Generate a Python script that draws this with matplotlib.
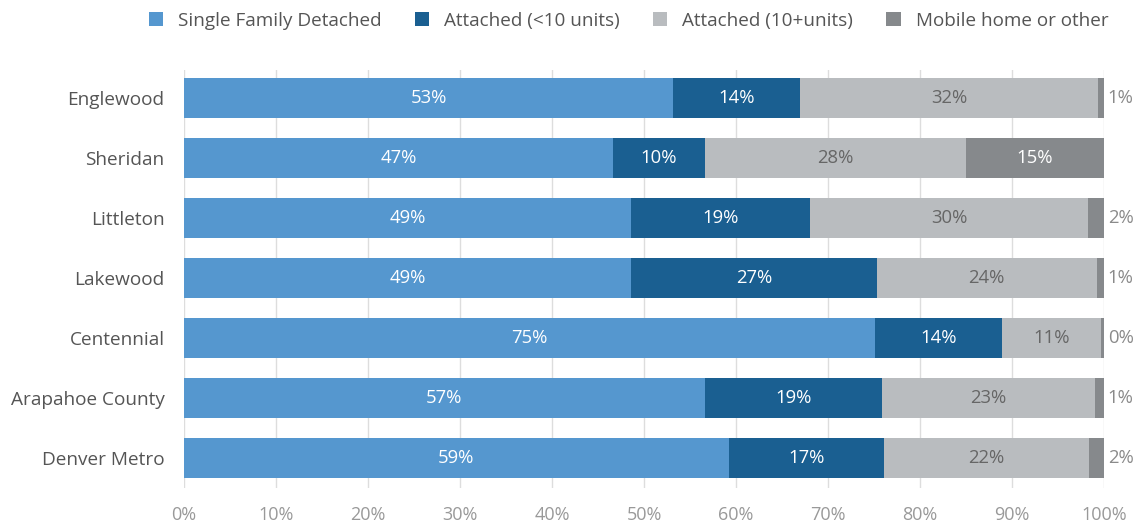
import matplotlib.pyplot as plt
import numpy as np

plt.rcParams['font.family'] = ['Open Sans', 'DejaVu Sans']

# Housing type shares by area (percent)
areas = ["Englewood", "Sheridan", "Littleton", "Lakewood", "Centennial",
         "Arapahoe County", "Denver Metro"]
single_family = [53.2, 46.6, 48.6, 48.6, 75.1, 56.6, 59.2]
attached_small = [13.8, 10.0, 19.4, 26.7, 13.8, 19.3, 16.9]
attached_large = [32.3, 28.4, 30.3, 23.9, 10.8, 23.1, 22.3]
mobile_other = [0.7, 15.0, 1.7, 0.8, 0.3, 1.0, 1.6]

series = ["Single Family Detached", "Attached (<10 units)",
          "Attached (10+units)", "Mobile home or other"]
colors = ["#5597cf", "#1a5f91", "#b9bcbf", "#86898c"]
label_colors = ["white", "white", "#666666", "white"]
values = [single_family, attached_small, attached_large, mobile_other]

fig = plt.figure(figsize=(11.41, 5.23), dpi=100)
ax = fig.add_axes([0.1613, 0.0669, 0.8063, 0.7993])

y = np.arange(len(areas))
left = np.zeros(len(areas))
for name, vals, col, lc in zip(series, values, colors, label_colors):
    vals = np.array(vals)
    ax.barh(y, vals, left=left, height=0.67, color=col, label=name, zorder=2)
    for yi, (l, v) in enumerate(zip(left, vals)):
        txt = f"{v:.0f}%"
        if name == "Mobile home or other" and v < 5:
            # small slices get their label outside the bar
            ax.text(100.4, yi, txt, ha="left", va="center", fontsize=13.3,
                    color="#8a8a8a")
        else:
            ax.text(l + v / 2, yi, txt, ha="center", va="center",
                    fontsize=13.3, color=lc, zorder=3)
    left += vals

ax.set_xlim(0, 100)
ax.set_ylim(len(areas) - 0.5, -0.47)
ax.set_yticks(y)
ax.set_yticklabels(areas, fontsize=13.7, color="#555555")
ax.set_xticks(np.arange(0, 101, 10))
ax.set_xticklabels([f"{t}%" for t in range(0, 101, 10)], fontsize=13,
                   color="#999999")
ax.tick_params(axis="both", length=0)
ax.tick_params(axis="x", pad=13)
ax.tick_params(axis="y", pad=14)
ax.grid(axis="x", color="#dddddd", linewidth=1, zorder=0)
for s in ax.spines.values():
    s.set_visible(False)

fig.legend(loc="center", bbox_to_anchor=(0.551, 0.96), ncol=4, frameon=False,
           fontsize=13.6, handlelength=0.75, handleheight=0.75,
           columnspacing=1.75, handletextpad=0.8, labelcolor="#555555")

fig.savefig("out.png", dpi=100)
